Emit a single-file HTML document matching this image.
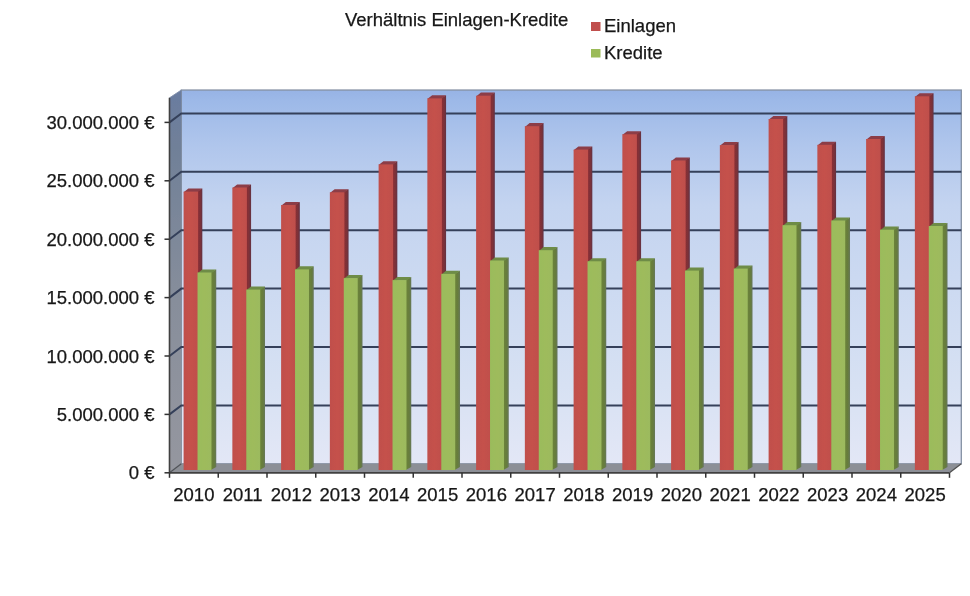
<!DOCTYPE html>
<html><head><meta charset="utf-8"><style>
html,body{margin:0;padding:0;background:#fff;}
svg{display:block;will-change:transform;font-family:"Liberation Sans",sans-serif;font-size:18.5px;fill:#141414;}
text{stroke:#1a1a1a;stroke-width:0.25px;}
</style></head><body>
<svg width="970" height="596" viewBox="0 0 970 596">
<defs><filter id="bl" x="0" y="0" width="1" height="1"><feGaussianBlur stdDeviation="0.45"/></filter><linearGradient id="bw" x1="0" y1="0" x2="0" y2="1"><stop offset="0" stop-color="#97b3e5"/><stop offset="0.03" stop-color="#9db9e8"/><stop offset="0.15" stop-color="#b0c6ec"/><stop offset="0.31" stop-color="#c4d4f0"/><stop offset="0.5" stop-color="#cbd9f1"/><stop offset="0.79" stop-color="#d7e1f3"/><stop offset="1" stop-color="#e3e7f6"/></linearGradient><linearGradient id="sw" x1="0" y1="0" x2="0" y2="1"><stop offset="0" stop-color="#6a7ca0"/><stop offset="0.15" stop-color="#708098"/><stop offset="0.55" stop-color="#878e9b"/><stop offset="0.85" stop-color="#91949e"/><stop offset="1" stop-color="#95979f"/></linearGradient><linearGradient id="rf" x1="0" y1="0" x2="1" y2="0"><stop offset="0" stop-color="#c0504c"/><stop offset="0.5" stop-color="#c5514c"/><stop offset="1" stop-color="#bf504c"/></linearGradient><linearGradient id="gf" x1="0" y1="0" x2="1" y2="0"><stop offset="0" stop-color="#9abc5b"/><stop offset="0.5" stop-color="#9ebb5c"/><stop offset="1" stop-color="#9cba5e"/></linearGradient><linearGradient id="rs" x1="0" y1="0" x2="1" y2="0"><stop offset="0" stop-color="#8e2e33"/><stop offset="0.6" stop-color="#7e3038"/><stop offset="1" stop-color="#623244"/></linearGradient><linearGradient id="gs" x1="0" y1="0" x2="1" y2="0"><stop offset="0" stop-color="#6c853a"/><stop offset="0.6" stop-color="#667c3c"/><stop offset="1" stop-color="#66775a"/></linearGradient></defs>
<g filter="url(#bl)">
<rect x="181.30" y="90.04" width="780.00" height="373.76" fill="url(#bw)" stroke="#8490a3" stroke-width="1.3"/>
<polygon points="169.50,97.84 181.30,90.04 181.30,463.80 169.50,472.80" fill="url(#sw)"/>
<line x1="169.5" y1="97.84" x2="181.30" y2="90.04" stroke="#8190ab" stroke-width="0.9"/>
<polygon points="169.50,472.80 181.30,463.80 961.30,463.80 949.50,472.80" fill="#8c8f96"/>
<line x1="169.5" y1="472.80" x2="181.30" y2="463.80" stroke="#505358" stroke-width="1.2"/>
<polyline points="169.50,414.40 181.30,405.40 961.30,405.40" fill="none" stroke="#34405a" stroke-width="2"/>
<polyline points="169.50,356.00 181.30,347.00 961.30,347.00" fill="none" stroke="#34405a" stroke-width="2"/>
<polyline points="169.50,297.60 181.30,288.60 961.30,288.60" fill="none" stroke="#34405a" stroke-width="2"/>
<polyline points="169.50,239.20 181.30,230.20 961.30,230.20" fill="none" stroke="#34405a" stroke-width="2"/>
<polyline points="169.50,180.80 181.30,171.80 961.30,171.80" fill="none" stroke="#34405a" stroke-width="2"/>
<polyline points="169.50,122.40 181.30,113.40 961.30,113.40" fill="none" stroke="#34405a" stroke-width="2"/>
<polygon points="196.83,191.60 202.33,188.50 202.33,466.91 196.83,470.01" fill="url(#rs)"/>
<polygon points="183.60,192.30 188.40,188.50 202.33,188.50 197.53,192.30" fill="#8c3c46"/>
<rect x="183.60" y="191.60" width="14.53" height="278.41" fill="url(#rf)"/>
<polygon points="210.76,272.50 216.26,269.40 216.26,466.91 210.76,470.01" fill="url(#gs)"/>
<polygon points="197.53,273.20 202.33,269.40 216.26,269.40 211.46,273.20" fill="#6e8c46"/>
<rect x="197.53" y="272.50" width="13.93" height="197.51" fill="url(#gf)"/>
<polygon points="245.58,187.50 251.08,184.40 251.08,466.91 245.58,470.01" fill="url(#rs)"/>
<polygon points="232.35,188.20 237.15,184.40 251.08,184.40 246.28,188.20" fill="#8c3c46"/>
<rect x="232.35" y="187.50" width="14.53" height="282.51" fill="url(#rf)"/>
<polygon points="259.51,289.60 265.01,286.50 265.01,466.91 259.51,470.01" fill="url(#gs)"/>
<polygon points="246.28,290.30 251.08,286.50 265.01,286.50 260.21,290.30" fill="#6e8c46"/>
<rect x="246.28" y="289.60" width="13.93" height="180.41" fill="url(#gf)"/>
<polygon points="294.33,205.00 299.83,201.90 299.83,466.91 294.33,470.01" fill="url(#rs)"/>
<polygon points="281.10,205.70 285.90,201.90 299.83,201.90 295.03,205.70" fill="#8c3c46"/>
<rect x="281.10" y="205.00" width="14.53" height="265.01" fill="url(#rf)"/>
<polygon points="308.26,269.40 313.76,266.30 313.76,466.91 308.26,470.01" fill="url(#gs)"/>
<polygon points="295.03,270.10 299.83,266.30 313.76,266.30 308.96,270.10" fill="#6e8c46"/>
<rect x="295.03" y="269.40" width="13.93" height="200.61" fill="url(#gf)"/>
<polygon points="343.08,192.30 348.58,189.20 348.58,466.91 343.08,470.01" fill="url(#rs)"/>
<polygon points="329.85,193.00 334.65,189.20 348.58,189.20 343.78,193.00" fill="#8c3c46"/>
<rect x="329.85" y="192.30" width="14.53" height="277.71" fill="url(#rf)"/>
<polygon points="357.01,278.10 362.51,275.00 362.51,466.91 357.01,470.01" fill="url(#gs)"/>
<polygon points="343.78,278.80 348.58,275.00 362.51,275.00 357.71,278.80" fill="#6e8c46"/>
<rect x="343.78" y="278.10" width="13.93" height="191.91" fill="url(#gf)"/>
<polygon points="391.83,164.40 397.33,161.30 397.33,466.91 391.83,470.01" fill="url(#rs)"/>
<polygon points="378.60,165.10 383.40,161.30 397.33,161.30 392.53,165.10" fill="#8c3c46"/>
<rect x="378.60" y="164.40" width="14.53" height="305.61" fill="url(#rf)"/>
<polygon points="405.76,280.10 411.26,277.00 411.26,466.91 405.76,470.01" fill="url(#gs)"/>
<polygon points="392.53,280.80 397.33,277.00 411.26,277.00 406.46,280.80" fill="#6e8c46"/>
<rect x="392.53" y="280.10" width="13.93" height="189.91" fill="url(#gf)"/>
<polygon points="440.58,98.40 446.08,95.30 446.08,466.91 440.58,470.01" fill="url(#rs)"/>
<polygon points="427.35,99.10 432.15,95.30 446.08,95.30 441.28,99.10" fill="#8c3c46"/>
<rect x="427.35" y="98.40" width="14.53" height="371.61" fill="url(#rf)"/>
<polygon points="454.51,273.90 460.01,270.80 460.01,466.91 454.51,470.01" fill="url(#gs)"/>
<polygon points="441.28,274.60 446.08,270.80 460.01,270.80 455.21,274.60" fill="#6e8c46"/>
<rect x="441.28" y="273.90" width="13.93" height="196.11" fill="url(#gf)"/>
<polygon points="489.33,95.70 494.83,92.60 494.83,466.91 489.33,470.01" fill="url(#rs)"/>
<polygon points="476.10,96.40 480.90,92.60 494.83,92.60 490.03,96.40" fill="#8c3c46"/>
<rect x="476.10" y="95.70" width="14.53" height="374.31" fill="url(#rf)"/>
<polygon points="503.26,260.50 508.76,257.40 508.76,466.91 503.26,470.01" fill="url(#gs)"/>
<polygon points="490.03,261.20 494.83,257.40 508.76,257.40 503.96,261.20" fill="#6e8c46"/>
<rect x="490.03" y="260.50" width="13.93" height="209.51" fill="url(#gf)"/>
<polygon points="538.08,126.20 543.58,123.10 543.58,466.91 538.08,470.01" fill="url(#rs)"/>
<polygon points="524.85,126.90 529.65,123.10 543.58,123.10 538.78,126.90" fill="#8c3c46"/>
<rect x="524.85" y="126.20" width="14.53" height="343.81" fill="url(#rf)"/>
<polygon points="552.01,250.20 557.51,247.10 557.51,466.91 552.01,470.01" fill="url(#gs)"/>
<polygon points="538.78,250.90 543.58,247.10 557.51,247.10 552.71,250.90" fill="#6e8c46"/>
<rect x="538.78" y="250.20" width="13.93" height="219.81" fill="url(#gf)"/>
<polygon points="586.83,149.60 592.33,146.50 592.33,466.91 586.83,470.01" fill="url(#rs)"/>
<polygon points="573.60,150.30 578.40,146.50 592.33,146.50 587.53,150.30" fill="#8c3c46"/>
<rect x="573.60" y="149.60" width="14.53" height="320.41" fill="url(#rf)"/>
<polygon points="600.76,261.30 606.26,258.20 606.26,466.91 600.76,470.01" fill="url(#gs)"/>
<polygon points="587.53,262.00 592.33,258.20 606.26,258.20 601.46,262.00" fill="#6e8c46"/>
<rect x="587.53" y="261.30" width="13.93" height="208.71" fill="url(#gf)"/>
<polygon points="635.58,134.30 641.08,131.20 641.08,466.91 635.58,470.01" fill="url(#rs)"/>
<polygon points="622.35,135.00 627.15,131.20 641.08,131.20 636.28,135.00" fill="#8c3c46"/>
<rect x="622.35" y="134.30" width="14.53" height="335.71" fill="url(#rf)"/>
<polygon points="649.51,261.30 655.01,258.20 655.01,466.91 649.51,470.01" fill="url(#gs)"/>
<polygon points="636.28,262.00 641.08,258.20 655.01,258.20 650.21,262.00" fill="#6e8c46"/>
<rect x="636.28" y="261.30" width="13.93" height="208.71" fill="url(#gf)"/>
<polygon points="684.33,160.50 689.83,157.40 689.83,466.91 684.33,470.01" fill="url(#rs)"/>
<polygon points="671.10,161.20 675.90,157.40 689.83,157.40 685.03,161.20" fill="#8c3c46"/>
<rect x="671.10" y="160.50" width="14.53" height="309.51" fill="url(#rf)"/>
<polygon points="698.26,270.60 703.76,267.50 703.76,466.91 698.26,470.01" fill="url(#gs)"/>
<polygon points="685.03,271.30 689.83,267.50 703.76,267.50 698.96,271.30" fill="#6e8c46"/>
<rect x="685.03" y="270.60" width="13.93" height="199.41" fill="url(#gf)"/>
<polygon points="733.08,145.10 738.58,142.00 738.58,466.91 733.08,470.01" fill="url(#rs)"/>
<polygon points="719.85,145.80 724.65,142.00 738.58,142.00 733.78,145.80" fill="#8c3c46"/>
<rect x="719.85" y="145.10" width="14.53" height="324.91" fill="url(#rf)"/>
<polygon points="747.01,268.60 752.51,265.50 752.51,466.91 747.01,470.01" fill="url(#gs)"/>
<polygon points="733.78,269.30 738.58,265.50 752.51,265.50 747.71,269.30" fill="#6e8c46"/>
<rect x="733.78" y="268.60" width="13.93" height="201.41" fill="url(#gf)"/>
<polygon points="781.83,119.00 787.33,115.90 787.33,466.91 781.83,470.01" fill="url(#rs)"/>
<polygon points="768.60,119.70 773.40,115.90 787.33,115.90 782.53,119.70" fill="#8c3c46"/>
<rect x="768.60" y="119.00" width="14.53" height="351.01" fill="url(#rf)"/>
<polygon points="795.76,225.20 801.26,222.10 801.26,466.91 795.76,470.01" fill="url(#gs)"/>
<polygon points="782.53,225.90 787.33,222.10 801.26,222.10 796.46,225.90" fill="#6e8c46"/>
<rect x="782.53" y="225.20" width="13.93" height="244.81" fill="url(#gf)"/>
<polygon points="830.58,144.80 836.08,141.70 836.08,466.91 830.58,470.01" fill="url(#rs)"/>
<polygon points="817.35,145.50 822.15,141.70 836.08,141.70 831.28,145.50" fill="#8c3c46"/>
<rect x="817.35" y="144.80" width="14.53" height="325.21" fill="url(#rf)"/>
<polygon points="844.51,220.50 850.01,217.40 850.01,466.91 844.51,470.01" fill="url(#gs)"/>
<polygon points="831.28,221.20 836.08,217.40 850.01,217.40 845.21,221.20" fill="#6e8c46"/>
<rect x="831.28" y="220.50" width="13.93" height="249.51" fill="url(#gf)"/>
<polygon points="879.33,139.00 884.83,135.90 884.83,466.91 879.33,470.01" fill="url(#rs)"/>
<polygon points="866.10,139.70 870.90,135.90 884.83,135.90 880.03,139.70" fill="#8c3c46"/>
<rect x="866.10" y="139.00" width="14.53" height="331.01" fill="url(#rf)"/>
<polygon points="893.26,229.70 898.76,226.60 898.76,466.91 893.26,470.01" fill="url(#gs)"/>
<polygon points="880.03,230.40 884.83,226.60 898.76,226.60 893.96,230.40" fill="#6e8c46"/>
<rect x="880.03" y="229.70" width="13.93" height="240.31" fill="url(#gf)"/>
<polygon points="928.08,96.30 933.58,93.20 933.58,466.91 928.08,470.01" fill="url(#rs)"/>
<polygon points="914.85,97.00 919.65,93.20 933.58,93.20 928.78,97.00" fill="#8c3c46"/>
<rect x="914.85" y="96.30" width="14.53" height="373.71" fill="url(#rf)"/>
<polygon points="942.01,226.00 947.51,222.90 947.51,466.91 942.01,470.01" fill="url(#gs)"/>
<polygon points="928.78,226.70 933.58,222.90 947.51,222.90 942.71,226.70" fill="#6e8c46"/>
<rect x="928.78" y="226.00" width="13.93" height="244.01" fill="url(#gf)"/>
<line x1="169.5" y1="97.84" x2="169.5" y2="473.30" stroke="#404040" stroke-width="1.6"/>
<line x1="169.5" y1="472.80" x2="949.5" y2="472.80" stroke="#404040" stroke-width="1.8"/>
<line x1="949.5" y1="472.80" x2="961.3" y2="463.80" stroke="#505050" stroke-width="1.2"/>
<line x1="164.5" y1="472.80" x2="169.5" y2="472.80" stroke="#303030" stroke-width="1.5"/>
<line x1="164.5" y1="414.40" x2="169.5" y2="414.40" stroke="#303030" stroke-width="1.5"/>
<line x1="164.5" y1="356.00" x2="169.5" y2="356.00" stroke="#303030" stroke-width="1.5"/>
<line x1="164.5" y1="297.60" x2="169.5" y2="297.60" stroke="#303030" stroke-width="1.5"/>
<line x1="164.5" y1="239.20" x2="169.5" y2="239.20" stroke="#303030" stroke-width="1.5"/>
<line x1="164.5" y1="180.80" x2="169.5" y2="180.80" stroke="#303030" stroke-width="1.5"/>
<line x1="164.5" y1="122.40" x2="169.5" y2="122.40" stroke="#303030" stroke-width="1.5"/>
<line x1="169.50" y1="472.80" x2="169.50" y2="477.80" stroke="#303030" stroke-width="1.5"/>
<line x1="218.25" y1="472.80" x2="218.25" y2="477.80" stroke="#303030" stroke-width="1.5"/>
<line x1="267.00" y1="472.80" x2="267.00" y2="477.80" stroke="#303030" stroke-width="1.5"/>
<line x1="315.75" y1="472.80" x2="315.75" y2="477.80" stroke="#303030" stroke-width="1.5"/>
<line x1="364.50" y1="472.80" x2="364.50" y2="477.80" stroke="#303030" stroke-width="1.5"/>
<line x1="413.25" y1="472.80" x2="413.25" y2="477.80" stroke="#303030" stroke-width="1.5"/>
<line x1="462.00" y1="472.80" x2="462.00" y2="477.80" stroke="#303030" stroke-width="1.5"/>
<line x1="510.75" y1="472.80" x2="510.75" y2="477.80" stroke="#303030" stroke-width="1.5"/>
<line x1="559.50" y1="472.80" x2="559.50" y2="477.80" stroke="#303030" stroke-width="1.5"/>
<line x1="608.25" y1="472.80" x2="608.25" y2="477.80" stroke="#303030" stroke-width="1.5"/>
<line x1="657.00" y1="472.80" x2="657.00" y2="477.80" stroke="#303030" stroke-width="1.5"/>
<line x1="705.75" y1="472.80" x2="705.75" y2="477.80" stroke="#303030" stroke-width="1.5"/>
<line x1="754.50" y1="472.80" x2="754.50" y2="477.80" stroke="#303030" stroke-width="1.5"/>
<line x1="803.25" y1="472.80" x2="803.25" y2="477.80" stroke="#303030" stroke-width="1.5"/>
<line x1="852.00" y1="472.80" x2="852.00" y2="477.80" stroke="#303030" stroke-width="1.5"/>
<line x1="900.75" y1="472.80" x2="900.75" y2="477.80" stroke="#303030" stroke-width="1.5"/>
<line x1="949.50" y1="472.80" x2="949.50" y2="477.80" stroke="#303030" stroke-width="1.5"/>
<text x="154.5" y="479.30" text-anchor="end">0 €</text>
<text x="154.5" y="420.90" text-anchor="end">5.000.000 €</text>
<text x="154.5" y="362.50" text-anchor="end">10.000.000 €</text>
<text x="154.5" y="304.10" text-anchor="end">15.000.000 €</text>
<text x="154.5" y="245.70" text-anchor="end">20.000.000 €</text>
<text x="154.5" y="187.30" text-anchor="end">25.000.000 €</text>
<text x="154.5" y="128.90" text-anchor="end">30.000.000 €</text>
<text x="193.88" y="501" text-anchor="middle">2010</text>
<text x="242.62" y="501" text-anchor="middle">2011</text>
<text x="291.38" y="501" text-anchor="middle">2012</text>
<text x="340.12" y="501" text-anchor="middle">2013</text>
<text x="388.88" y="501" text-anchor="middle">2014</text>
<text x="437.62" y="501" text-anchor="middle">2015</text>
<text x="486.38" y="501" text-anchor="middle">2016</text>
<text x="535.12" y="501" text-anchor="middle">2017</text>
<text x="583.88" y="501" text-anchor="middle">2018</text>
<text x="632.62" y="501" text-anchor="middle">2019</text>
<text x="681.38" y="501" text-anchor="middle">2020</text>
<text x="730.12" y="501" text-anchor="middle">2021</text>
<text x="778.88" y="501" text-anchor="middle">2022</text>
<text x="827.62" y="501" text-anchor="middle">2023</text>
<text x="876.38" y="501" text-anchor="middle">2024</text>
<text x="925.12" y="501" text-anchor="middle">2025</text>
<text x="345" y="25.5">Verhältnis Einlagen-Kredite</text>
<rect x="591" y="22" width="9.5" height="9" fill="#c0504d"/>
<text x="604" y="31.6">Einlagen</text>
<rect x="591" y="49" width="9.5" height="8.5" fill="#9bbb59"/>
<text x="604" y="59">Kredite</text>
</g>
</svg></body></html>
